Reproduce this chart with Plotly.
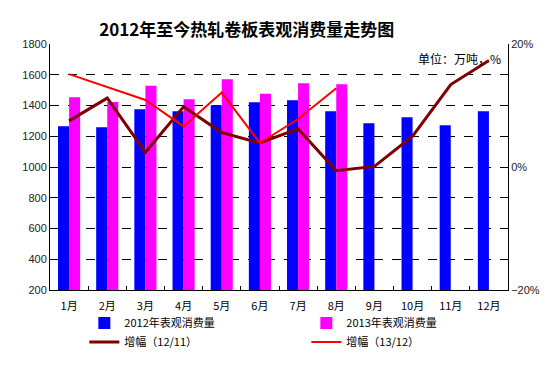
import plotly.graph_objects as go

months = ["1月", "2月", "3月", "4月", "5月", "6月", "7月", "8月", "9月", "10月", "11月", "12月"]
consumption_2012 = [1265, 1258, 1376, 1363, 1402, 1421, 1434, 1363, 1285, 1324, 1272, 1363]
consumption_2013 = [1454, 1423, 1528, 1441, 1571, 1476, 1545, 1539]
growth_12_11 = [7.5, 11.2, 2.4, 9.8, 5.6, 3.9, 6.2, -0.6, 0.1, 5.0, 13.4, 17.3]
growth_13_12 = [15.1, 13.0, 10.9, 6.6, 12.1, 3.9, 7.8, 12.8]

name_2012 = "2012年表观消费量"
name_2013 = "2013年表观消费量"
name_g1 = "增幅（12/11）"
name_g2 = "增幅（13/12）"

cjk = "Noto Sans CJK SC"
fig = go.Figure()
fig.add_trace(go.Bar(x=months, y=consumption_2012, name=name_2012, marker_color="#0000FF",
                     marker_line_width=0))
fig.add_trace(go.Bar(x=months[:len(consumption_2013)], y=consumption_2013, name=name_2013,
                     marker_color="#FF00FF", marker_line_width=0))
fig.add_trace(go.Scatter(x=months, y=growth_12_11, name=name_g1, mode="lines", yaxis="y2",
                         line=dict(color="#800000", width=3)))
fig.add_trace(go.Scatter(x=months[:len(growth_13_12)], y=growth_13_12, name=name_g2, mode="lines",
                         yaxis="y2", line=dict(color="#FF0000", width=2)))

fig.update_layout(
    width=554, height=367,
    margin=dict(l=42, r=54, t=36, b=85, autoexpand=False),
    paper_bgcolor="white", plot_bgcolor="white",
    barmode="group", bargap=0.42, bargroupgap=0,
    font=dict(family="Liberation Sans, Arial", size=11, color="#000"),
    title=dict(text="<b>2012年至今热轧卷板表观消费量走势图</b>", x=0.431, xanchor="center",
               y=0.94, yanchor="middle", font=dict(family=cjk, size=17, color="#000")),
    xaxis=dict(showline=True, linecolor="#000", linewidth=1, mirror=False,
               ticks="inside", ticklen=4, tickcolor="#000", tickson="boundaries",
               ticklabelstandoff=6,
               tickfont=dict(family=cjk, size=11, color="#000"), showgrid=False),
    yaxis=dict(range=[200, 1800], dtick=200, showline=True, linecolor="#000", linewidth=1,
               ticks="inside", ticklen=4, tickcolor="#000",
               showgrid=True, gridcolor="#000", griddash="dash", gridwidth=1, zeroline=False,
               tickfont=dict(size=11, color="#222")),
    yaxis2=dict(range=[-20, 20], dtick=20, ticksuffix="%", overlaying="y", side="right",
                showline=True, linecolor="#000", linewidth=1, ticks="inside", ticklen=4,
                tickcolor="#000", showgrid=False, zeroline=False,
                tickfont=dict(size=11, color="#222")),
    legend=dict(orientation="h", x=0.075, xanchor="left", y=-0.075, yanchor="top",
                entrywidth=177, entrywidthmode="pixels", traceorder="normal",
                font=dict(family=cjk, size=11, color="#000"), tracegroupgap=0, itemwidth=30,
                bgcolor="rgba(0,0,0,0)"),
    annotations=[dict(text="单位：万吨，%", xref="paper", yref="paper", x=0.99, y=0.985,
                      xanchor="right", yanchor="top", showarrow=False,
                      font=dict(family=cjk, size=12, color="#000"))],
)

fig.write_html("out.html")
